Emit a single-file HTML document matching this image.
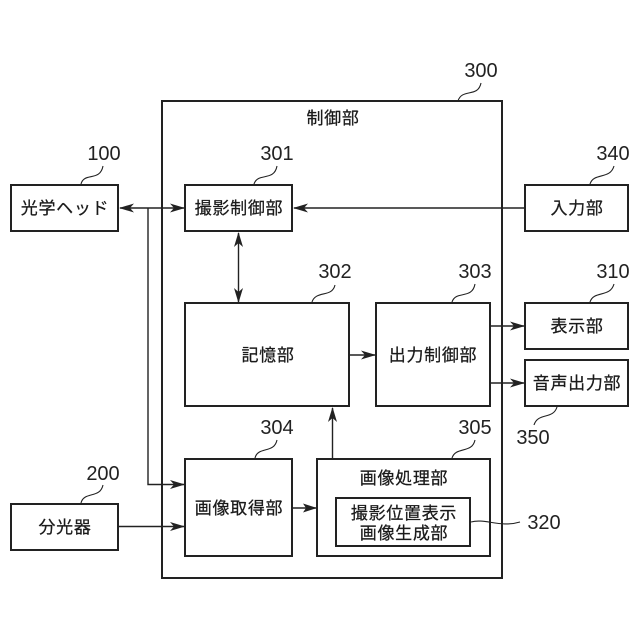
<!DOCTYPE html>
<html>
<head>
<meta charset="utf-8">
<style>
html,body{margin:0;padding:0;background:#fff;}
svg{display:block;}
.j{font-family:"Liberation Sans","Noto Sans CJK JP",sans-serif;font-size:17px;fill:#1a1a1a;stroke:#1a1a1a;stroke-width:0.25;text-anchor:middle;letter-spacing:0.7px;}
.n{font-family:"Liberation Sans",sans-serif;font-size:20px;fill:#222;text-anchor:middle;}
.b{fill:none;stroke:#222;stroke-width:2;}
.l{fill:none;stroke:#222;stroke-width:1.4;}
.c{fill:none;stroke:#222;stroke-width:1.1;}
.a{fill:#222;stroke:none;}
</style>
</head>
<body>
<svg width="640" height="640" viewBox="0 0 640 640" xmlns="http://www.w3.org/2000/svg">
<rect width="640" height="640" fill="#fff"/>
<!-- boxes -->
<rect class="b" x="162" y="101" width="340" height="477"/>
<rect class="b" x="11" y="185" width="107" height="46"/>
<rect class="b" x="185" y="185" width="107" height="46"/>
<rect class="b" x="525" y="185" width="103" height="46"/>
<rect class="b" x="185" y="303" width="164" height="103"/>
<rect class="b" x="376" y="303" width="114" height="103"/>
<rect class="b" x="525" y="303" width="103" height="46"/>
<rect class="b" x="525" y="360" width="103" height="46"/>
<rect class="b" x="185" y="459" width="107" height="97"/>
<rect class="b" x="317" y="459" width="173" height="97"/>
<rect class="b" x="336" y="498" width="134" height="48"/>
<rect class="b" x="11" y="504" width="107" height="46"/>
<!-- connectors -->
<path class="l" d="M120 208H184"/>
<path class="l" d="M148 208V484.500H184"/>
<path class="l" d="M294 208H525"/>
<path class="l" d="M238.500 233V302"/>
<path class="l" d="M350 355H375"/>
<path class="l" d="M491 326H524"/>
<path class="l" d="M491 383H524"/>
<path class="l" d="M119 526.500H184"/>
<path class="l" d="M292 508H316"/>
<path class="l" d="M332.500 408V458"/>
<!-- arrowheads -->
<path class="a" d="M119 208L134 203.500L130 208L134 212.500Z"/>
<path class="a" d="M185 208L170 203.500L174 208L170 212.500Z"/>
<path class="a" d="M293 208L308 203.500L304 208L308 212.500Z"/>
<path class="a" d="M185 484.500L170 480L174 484.500L170 489Z"/>
<path class="a" d="M185 526.500L170 522L174 526.500L170 531Z"/>
<path class="a" d="M238.500 232L234 247L238.500 243L243 247Z"/>
<path class="a" d="M238.500 303L234 288L238.500 292L243 288Z"/>
<path class="a" d="M376 355L361 350.500L365 355L361 359.500Z"/>
<path class="a" d="M525 326L510 321.500L514 326L510 330.500Z"/>
<path class="a" d="M525 383L510 378.500L514 383L510 387.500Z"/>
<path class="a" d="M317 508L303 503.500L306 508L303 512.500Z"/>
<path class="a" d="M332.500 407L328 422L332.500 418L337 422Z"/>
<!-- leader curves -->
<path class="c" d="M81 184C84 172 100 182 103 166"/>
<path class="c" d="M254 184C258 172 274 182 277 166"/>
<path class="c" d="M458 101C462 88 478 98 481 83"/>
<path class="c" d="M590 184C594 172 610 180 614 166"/>
<path class="c" d="M312 302C316 290 332 298 335 285"/>
<path class="c" d="M452 302C456 290 472 300 475 284"/>
<path class="c" d="M590 302C594 290 610 298 614 284"/>
<path class="c" d="M557 407C553 420 538 412 534 425"/>
<path class="c" d="M255 458C258 446 274 454 277 440"/>
<path class="c" d="M81 503C84 491 100 499 103 485"/>
<path class="c" d="M452 458C456 446 472 454 475 440"/>
<path class="c" d="M471 522C485 518 500 528 520 522"/>
<!-- numbers -->
<text class="n" x="104" y="160">100</text>
<text class="n" x="277" y="160">301</text>
<text class="n" x="481" y="77">300</text>
<text class="n" x="613" y="160">340</text>
<text class="n" x="335" y="278">302</text>
<text class="n" x="475" y="278">303</text>
<text class="n" x="613" y="278">310</text>
<text class="n" x="533" y="444">350</text>
<text class="n" x="277" y="434">304</text>
<text class="n" x="103" y="480">200</text>
<text class="n" x="475" y="434">305</text>
<text class="n" x="544" y="529">320</text>
<!-- labels -->
<text class="j" x="333" y="124">制御部</text>
<text class="j" x="65" y="214">光学ヘッド</text>
<text class="j" x="239" y="214">撮影制御部</text>
<text class="j" x="577" y="214">入力部</text>
<text class="j" x="268" y="361">記憶部</text>
<text class="j" x="433" y="361">出力制御部</text>
<text class="j" x="577" y="332">表示部</text>
<text class="j" x="577" y="389">音声出力部</text>
<text class="j" x="239" y="514">画像取得部</text>
<text class="j" x="404" y="484">画像処理部</text>
<text class="j" x="404" y="519">撮影位置表示</text>
<text class="j" x="404" y="539">画像生成部</text>
<text class="j" x="65" y="533">分光器</text>
</svg>
</body>
</html>
